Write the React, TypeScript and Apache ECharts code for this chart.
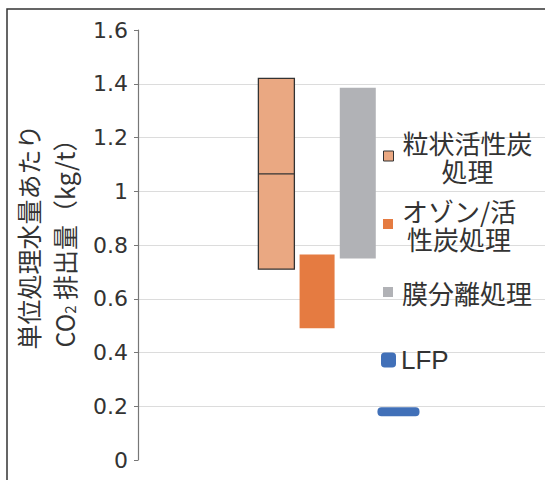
import { useEffect, useRef } from 'react';
import * as echarts from 'echarts';

// Treatment methods, in the order they are drawn along the hidden x scale
const seriesNames = ['粒状活性炭処理', 'オゾン/活性炭処理', '膜分離処理', 'LFP'];
const legendLines = [['粒状活性炭', '処理'], ['オゾン/活', '性炭処理'], ['膜分離処理'], ['LFP']];
const slotPositions = [3.4, 4.4, 5.4, 6.4];

// CO2 emission per treated water (kg/t): [low, high, middle]
const gacRange = [0.71, 1.42, 1.065];
const ozoneRange = [0.49, 0.765];
const membraneRange = [0.75, 1.385];
const lfpValue = 0.18;

const yMin = 0;
const yMax = 1.6;
const yStep = 0.2;

const colors = ['#EAA882', '#E57B41', '#B1B2B6', '#4170B8'];

const CJK = '"Noto Sans CJK JP", "Noto Sans", sans-serif';
const LATIN = '"Liberation Sans", Arial, sans-serif';

function rangeBar(fill: string, stroke: string | null, barWidth: number) {
  return (params: any, api: any) => {
    const x = api.value(0);
    const lo = api.coord([x, api.value(1)]);
    const hi = api.coord([x, api.value(2)]);
    const left = lo[0] - barWidth / 2;
    const children: any[] = [
      {
        type: 'rect',
        shape: { x: left, y: hi[1], width: barWidth, height: lo[1] - hi[1] },
        style: { fill, stroke: stroke || undefined, lineWidth: stroke ? 1.3 : 0 },
      },
    ];
    const mid = api.value(3);
    if (stroke && mid != null && !isNaN(mid)) {
      const m = api.coord([x, mid]);
      children.push({
        type: 'line',
        shape: { x1: left, y1: m[1], x2: left + barWidth, y2: m[1] },
        style: { stroke, lineWidth: 1.2 },
      });
    }
    return { type: 'group', children };
  };
}

function lfpMark(params: any, api: any) {
  const p = api.coord([api.value(0), api.value(1)]);
  const w = 42;
  const h = 9;
  return {
    type: 'rect',
    shape: { x: p[0] - w / 2, y: p[1] - h / 2, width: w, height: h, r: 4 },
    style: { fill: colors[3] },
  };
}

function legendText(lines: string[]) {
  return lines.map((l) => `{c|${l}}`).join('\n');
}

function legendTextStyle(family: string, size: number, padLeft: number) {
  return {
    fontFamily: family,
    fontSize: size,
    color: '#333',
    padding: [0, 0, 0, padLeft],
    rich: {
      c: { align: 'center', fontFamily: family, fontSize: size, lineHeight: 28, color: '#333' },
    },
  };
}

export default function App() {
  const ref = useRef<HTMLDivElement>(null);

  useEffect(() => {
    if (!ref.current) return;
    const chart = echarts.init(ref.current, null, { renderer: 'svg' });

    const legendTops = [129, 197, 279, 347];
    const legends = seriesNames.map((name, i) => {
      const isLfp = i === 3;
      return {
        data: [
          {
            name,
            icon: isLfp ? 'roundRect' : 'rect',
            itemStyle:
              i === 0
                ? { color: colors[0], borderColor: '#333', borderWidth: 1 }
                : { color: colors[i], borderWidth: 0 },
          },
        ],
        left: isLfp ? 381 : 383,
        top: legendTops[i],
        padding: 0,
        itemWidth: isLfp ? 15 : 10,
        itemHeight: isLfp ? 15 : 10,
        selectedMode: false,
        formatter: () => legendText(legendLines[i]),
        textStyle: isLfp ? legendTextStyle(LATIN, 26, 0) : legendTextStyle(CJK, 26, 4),
      };
    });

    chart.setOption({
      animation: false,
      backgroundColor: '#fff',
      graphic: [
        {
          type: 'rect',
          shape: { x: 7, y: 9, width: 700, height: 700 },
          style: { fill: 'none', stroke: '#333', lineWidth: 1.5 },
          z: -1,
          silent: true,
        },
      ],
      grid: { left: 138, right: 0, top: 30, bottom: 20, containLabel: false },
      legend: legends,
      xAxis: {
        type: 'value',
        min: 0,
        max: 10,
        show: false,
      },
      yAxis: {
        type: 'value',
        min: yMin,
        max: yMax,
        interval: yStep,
        name: '単位処理水量あたり\nCO{s|2} 排出量（kg/t）',
        nameLocation: 'middle',
        nameRotate: 90,
        nameGap: 54,
        nameTextStyle: {
          fontFamily: CJK,
          fontSize: 25,
          lineHeight: 36,
          color: '#333',
          padding: [0, 0, 0, 16],
          rich: {
            s: { fontFamily: CJK, fontSize: 15, color: '#333', verticalAlign: 'bottom', padding: [0, 0, 5, 0] },
          },
        },
        axisLine: { show: true, lineStyle: { color: '#777', width: 1.2 } },
        axisTick: { show: true, length: 4, lineStyle: { color: '#777' } },
        axisLabel: {
          fontFamily: '"DejaVu Sans", sans-serif',
          fontSize: 22,
          color: '#333',
          margin: 10,
          padding: [6, 0, 0, 0],
        },
        splitLine: {
          show: true,
          showMinLine: false,
          showMaxLine: false,
          lineStyle: { color: '#dcdcdc', width: 1.2 },
        },
      },
      series: [
        {
          name: seriesNames[0],
          type: 'custom',
          itemStyle: { color: colors[0], borderColor: '#333' },
          renderItem: rangeBar(colors[0], '#333', 36),
          encode: { x: 0, y: [1, 2] },
          data: [[slotPositions[0], gacRange[0], gacRange[1], gacRange[2]]],
        },
        {
          name: seriesNames[1],
          type: 'custom',
          itemStyle: { color: colors[1] },
          renderItem: rangeBar(colors[1], null, 35),
          encode: { x: 0, y: [1, 2] },
          data: [[slotPositions[1], ozoneRange[0], ozoneRange[1]]],
        },
        {
          name: seriesNames[2],
          type: 'custom',
          itemStyle: { color: colors[2] },
          renderItem: rangeBar(colors[2], null, 36),
          encode: { x: 0, y: [1, 2] },
          data: [[slotPositions[2], membraneRange[0], membraneRange[1]]],
        },
        {
          name: seriesNames[3],
          type: 'custom',
          itemStyle: { color: colors[3] },
          renderItem: lfpMark,
          encode: { x: 0, y: 1 },
          data: [[slotPositions[3], lfpValue]],
        },
      ],
    });

    return () => chart.dispose();
  }, []);

  return (
    <div
      ref={ref}
      style={{ position: 'absolute', left: 0, top: 0, width: 545, height: 480, background: '#fff' }}
    />
  );
}
